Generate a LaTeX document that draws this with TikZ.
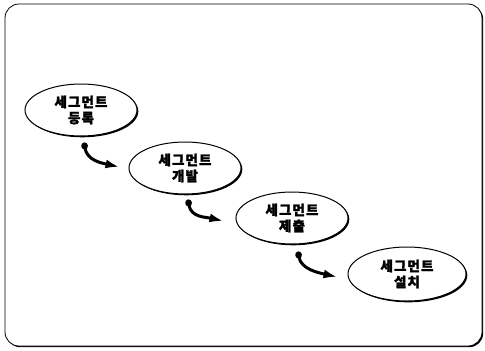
\documentclass[tikz,border=0pt]{standalone}
\usepackage{fontspec}
\newfontfamily\krfont{Noto Sans CJK KR}[BoldFeatures={FakeBold=1.8}, LetterSpace=8]
\usetikzlibrary{arrows.meta,shadows,calc,shapes.geometric}
\begin{document}
\begin{tikzpicture}[x=1pt,y=-1pt,
  stage/.style={ellipse, draw, line width=1pt, fill=white,
    minimum width=112pt, minimum height=52pt, inner sep=0pt, align=center,
    font=\krfont\bfseries\fontsize{13.5}{16}\selectfont,
    drop shadow={shadow xshift=1.3pt, shadow yshift=-1.3pt, fill=black, opacity=1}},
  flow/.style={line width=3pt, line cap=round,
    {Circle[length=7pt,width=6.5pt]}-{Latex[length=14pt,width=9pt]}},
  frame/.style={draw, line width=0.8pt, fill=white, rounded corners=14pt,
    drop shadow={shadow xshift=1.2pt, shadow yshift=-1.2pt, fill=black, opacity=1}}]
  \useasboundingbox (0,0) rectangle (485,351);
  % outer panel
  \path[frame] (5,4) rectangle (482,346);
  % the four stages
  \node[stage] (e1) at (81,110) {세그먼트\\등록};
  \node[stage] (e2) at (185,168) {세그먼트\\개발};
  \node[stage] (e3) at (292,218) {세그먼트\\제출};
  \node[stage, minimum width=118pt, minimum height=54pt] (e4) at (407,274) {세그먼트\\설치};
  % arrow end points between neighbouring stages
  \coordinate (s1) at ($(e1.south)+(3,6)$);
  \coordinate (t1) at ($(e2.west)+(-9,-1)$);
  \coordinate (s2) at ($(e2.south)+(3,5)$);
  \coordinate (t2) at ($(e3.west)+(-12,3)$);
  \coordinate (s3) at ($(e3.south)+(6,7)$);
  \coordinate (t3) at ($(e4.west)+(-10,3)$);
  \draw[flow] (s1) .. controls +(3,18) and +(-18,-4) .. (t1);
  \draw[flow] (s2) .. controls +(3,18) and +(-18,-4) .. (t2);
  \draw[flow] (s3) .. controls +(3,18) and +(-18,-4) .. (t3);
\end{tikzpicture}
\end{document}
